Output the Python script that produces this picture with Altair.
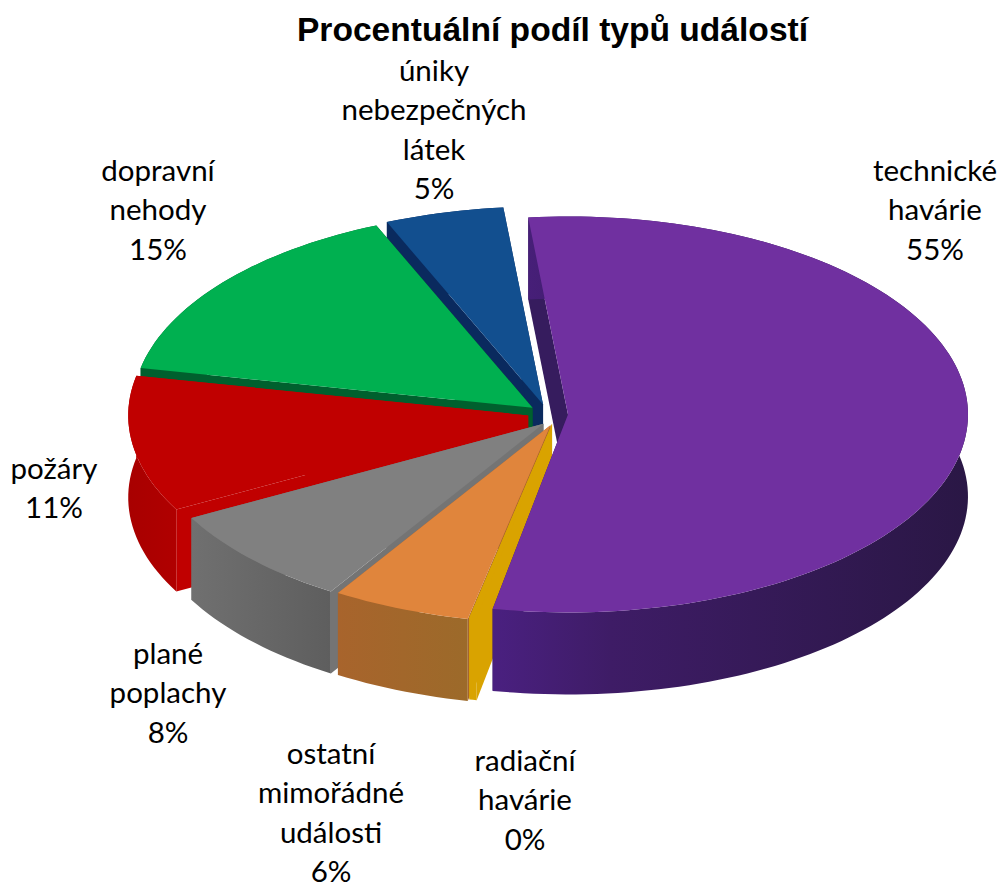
import math
import altair as alt
import pandas as pd

TITLE = "Procentuální podíl typů událostí"
names = ["technické\nhavárie", "radiační\nhavárie", "ostatní\nmimořádné\nudálosti", "plané\npoplachy",
         "požáry", "dopravní\nnehody", "úniky\nnebezpečných\nlátek"]
shares = [54.6, 0.3, 5.6, 8.2, 11.1, 15.4, 4.8]
top_colors = ["#7030A0", "#D9A300", "#E0853C", "#808080", "#C00000", "#00B050", "#124F8F"]
wall_colors = ["#361C5E", "#D9A300", "#A8642C", "#747474", "#C00000", "#00602E", "#0A2A5E"]
rim_stops = [
    [("#4A2080", 0), ("#3E1C66", 0.25), ("#2A1745", 1)],
    [("#D9A300", 0), ("#D9A300", 1)],
    [("#A8642C", 0), ("#9C6A2A", 1)],
    [("#707070", 0), ("#5E5E5E", 1)],
    [("#A80000", 0), ("#B00000", 1)],
    [("#00602E", 0), ("#00602E", 1)],
    [("#0A2A5E", 0), ("#0A2A5E", 1)],
]
# layout, in page pixels
label_first_lines = [(935, 172), (525, 762), (331, 755), (168, 655), (54, 470), (158, 172), (434, 72)]
slice_nudge = [(0, 0), (8, 0), (10, 2), (10, 3), (0, 0), (0, 0), (0, 0)]
CX, CY, A, B, DEPTH, EXPLODE, START = 548, 414, 400, 198, 82, 0.05, -5.7
PAD_TOP = 50
W, H = 991, 829


def pt(center, deg, dy=0):
    r = math.radians(deg)
    return center[0] + A * math.sin(r), center[1] - B * math.cos(r) + dy


def poly(points, fill):
    df = pd.DataFrame({"x": [p[0] for p in points], "y": [p[1] for p in points], "i": range(len(points))})
    return alt.Chart(df).mark_line(fill=fill, strokeWidth=0).encode(
        x=alt.X("x:Q", scale=alt.Scale(domain=[8, 8 + W]), axis=None),
        y=alt.Y("y:Q", scale=alt.Scale(domain=[8 + PAD_TOP + H, 8 + PAD_TOP]), axis=None),
        order=alt.Order("i:Q"),
    )


total = sum(shares)
slices = {}
a0 = START
for k, s in enumerate(shares):
    a1 = a0 + 360 * s / total
    mid = math.radians((a0 + a1) / 2)
    c = (CX + EXPLODE * A * math.sin(mid) + slice_nudge[k][0],
         CY - EXPLODE * B * math.cos(mid) + slice_nudge[k][1])
    slices[k] = (a0, a1, c)
    a0 = a1

layers = []
for k in [6, 5, 4, 3, 2, 1, 0]:
    a0, a1, c = slices[k]
    steps = max(2, int((a1 - a0) / 1.5))
    angles = [a0 + (a1 - a0) * j / steps for j in range(steps + 1)]
    top_rim = [pt(c, t) for t in angles]
    low_rim = [pt(c, t, DEPTH) for t in angles]
    low_c = (c[0], c[1] + DEPTH)
    for t in (a0, a1):
        layers.append(poly([c, pt(c, t), pt(c, t, DEPTH), low_c], wall_colors[k]))
    grad = alt.LinearGradient(gradient="linear", x1=0, x2=1, y1=0, y2=0,
                              stops=[alt.GradientStop(color=col, offset=o) for col, o in rim_stops[k]])
    layers.append(poly(top_rim + low_rim[::-1], grad))
    layers.append(poly([c] + top_rim, top_colors[k]))

labels = pd.DataFrame({
    "t": [f"{n}\n{round(s)}%" for n, s in zip(names, shares)],
    "x": [p[0] for p in label_first_lines],
    "y": [p[1] for p in label_first_lines],
})
text = alt.Chart(labels).mark_text(font="Lato", fontSize=29.5, lineBreak="\n", lineHeight=39.3,
                                   align="center", baseline="middle", color="#000000").encode(
    x=alt.X("x:Q", scale=alt.Scale(domain=[8, 8 + W]), axis=None),
    y=alt.Y("y:Q", scale=alt.Scale(domain=[8 + PAD_TOP + H, 8 + PAD_TOP]), axis=None),
    text="t:N",
)

chart = alt.layer(*layers, text).properties(
    width=W, height=H,
    title=alt.TitleParams(TITLE, font="Liberation Sans", fontSize=33.6, fontWeight="bold", color="#000000",
                          anchor="middle", dx=49, offset=9),
    autosize=alt.AutoSizeParams(type="none"),
    padding={"left": 0, "right": 0, "top": PAD_TOP, "bottom": 0},
).configure_view(stroke=None)

chart.save("out.html", embed_options={"renderer": "svg", "actions": False})
